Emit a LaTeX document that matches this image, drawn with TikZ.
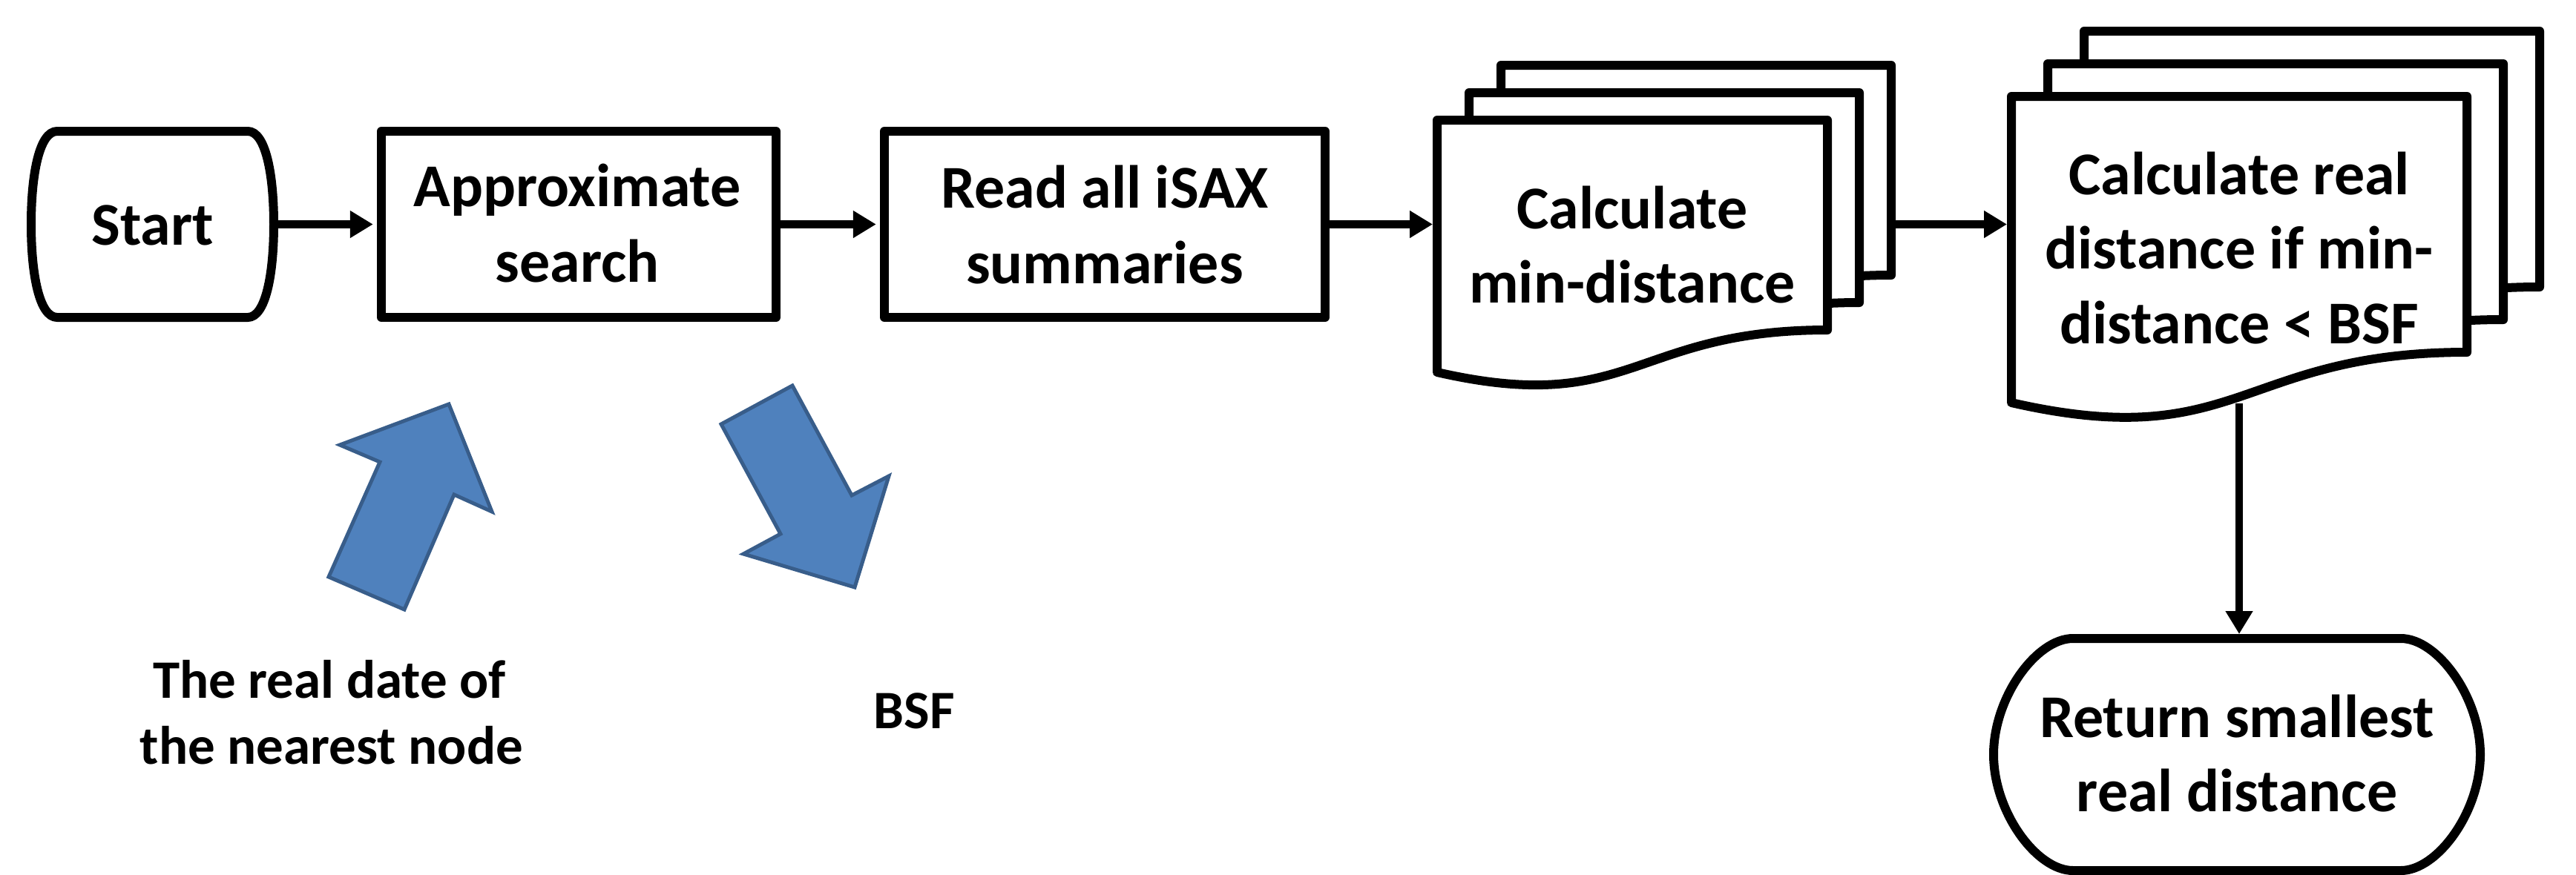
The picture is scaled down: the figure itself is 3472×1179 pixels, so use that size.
\documentclass[tikz,border=0pt]{standalone}
\usepackage{fontspec}
\setmainfont{Carlito}
\usetikzlibrary{arrows.meta}
\definecolor{arrowfill}{HTML}{4F81BD}
\definecolor{arrowline}{HTML}{385D8A}
\begin{document}
\begin{tikzpicture}[x=0.25pt,y=-0.25pt,
  outline/.style={draw=black, line width=3pt, line join=round, fill=white},
  anchorbox/.style={draw=none, inner sep=0pt, rectangle},
  conn/.style={draw=black, line width=2.6pt, -{Triangle[length=7.75pt,width=8.75pt]}, shorten >=1.3pt},
  lbl/.style={anchor=base, inner sep=0pt, font=\fontsize{20.5pt}{25pt}\selectfont\bfseries},
  freelbl/.style={anchor=base, inner sep=0pt, font=\fontsize{18.25pt}{23pt}\selectfont\bfseries},
  bluearrow/.style={fill=arrowfill, draw=arrowline, line width=1.25pt, line join=miter}]
\useasboundingbox (0,0) rectangle (3472,1179);

% Start terminator
\node[anchorbox, minimum width=81.75pt, minimum height=62.75pt] (start) at (205.5,302.5) {};
\draw[outline] (77,177) -- (334,177) .. controls (358,177) and (369,235) .. (369,302.5)
  .. controls (369,370) and (358,428) .. (334,428) -- (77,428)
  .. controls (53,428) and (42,370) .. (42,302.5) .. controls (42,235) and (53,177) .. (77,177) -- cycle;
\node[lbl] (startT) at (205.5,330) {Start};

% Approximate search
\node[anchorbox, outline, minimum width=133pt, minimum height=62.75pt] (approx) at (780,302.5) {};
\node[lbl] (approxT1) at (778,278) {Approximate};
\node[lbl] (approxT2) at (778,380) {search};

% Read all iSAX summaries
\node[anchorbox, outline, minimum width=148.5pt, minimum height=62.75pt] (read) at (1489,302.5) {};
\node[lbl] (readT1) at (1489,280) {Read all iSAX};
\node[lbl] (readT2) at (1489,382) {summaries};

% Document stack 1
\node[anchorbox, minimum width=131.5pt, minimum height=85pt] (doc1c) at (2286,258) {};
\node[anchorbox, minimum width=131.5pt, minimum height=85pt] (doc1b) at (2243,295) {};
\node[anchorbox, minimum width=131.5pt, minimum height=85pt] (doc1) at (2200,332) {};
\draw[outline] (2023,88) -- (2549,88) -- (2549,371) .. controls (2286,371) and (2286,488) .. (2023,428) -- cycle;
\draw[outline] (1980,125) -- (2506,125) -- (2506,408) .. controls (2243,408) and (2243,525) .. (1980,465) -- cycle;
\draw[outline] (1937,162) -- (2463,162) -- (2463,445) .. controls (2200,445) and (2200,562) .. (1937,502) -- cycle;
\node[lbl] (doc1T1) at (2200,308) {Calculate};
\node[lbl] (doc1T2) at (2200,408) {min-distance};

% Document stack 2
\node[anchorbox, minimum width=153.5pt, minimum height=103.25pt] (doc2c) at (3116,248.5) {};
\node[anchorbox, minimum width=153.5pt, minimum height=103.25pt] (doc2b) at (3067,292.5) {};
\node[anchorbox, minimum width=153.5pt, minimum height=103.25pt] (doc2) at (3018,336.5) {};
\draw[outline] (2809,42) -- (3423,42) -- (3423,387) .. controls (3116,387) and (3116,525) .. (2809,455) -- cycle;
\draw[outline] (2760,86) -- (3374,86) -- (3374,431) .. controls (3067,431) and (3067,569) .. (2760,499) -- cycle;
\draw[outline] (2711,130) -- (3325,130) -- (3325,475) .. controls (3018,475) and (3018,613) .. (2711,543) -- cycle;
\node[lbl] (doc2T1) at (3018,262) {Calculate real};
\node[lbl] (doc2T2) at (3018,362) {distance if min-};
\node[lbl] (doc2T3) at (3018,463) {distance < BSF};

% Return terminator
\node[anchorbox, minimum width=164pt, minimum height=78.25pt] (ret) at (3015,1017.5) {};
\draw[outline] (2794,861) -- (3236,861) .. controls (3285,861) and (3343,940) .. (3343,1017.5)
  .. controls (3343,1095) and (3285,1174) .. (3236,1174) -- (2794,1174)
  .. controls (2745,1174) and (2687,1095) .. (2687,1017.5) .. controls (2687,940) and (2745,861) .. (2794,861) -- cycle;
\node[lbl] (retT1) at (3015,994) {Return smallest};
\node[lbl] (retT2) at (3015,1094) {real distance};

% Connectors
\draw[conn] (start.east) -- (approx.west);
\draw[conn] (approx.east) -- (read.west);
\draw[conn] (read.east) -- (read.east -| doc1.west);
\draw[conn] (doc1c.east |- read.east) -- (read.east -| doc2.west);
\draw[conn] (doc2.south) -- (doc2.south |- ret.north);

% Blue block arrows
\draw[bluearrow] (605,545) -- (663,690) -- (612,667) -- (545,822) -- (443,778) -- (512,623) -- (458,600) -- cycle;
\draw[bluearrow] (972,572) -- (1068,520) -- (1148,668) -- (1198,642) -- (1152,792) -- (1002,747) -- (1052,720) -- cycle;

% Free labels
\node[freelbl] (nearT1) at (444,941) {The real date of};
\node[freelbl] (nearT2) at (447,1030) {the nearest node};
\node[freelbl] (bsf) at (1232,982) {BSF};
\end{tikzpicture}
\end{document}
